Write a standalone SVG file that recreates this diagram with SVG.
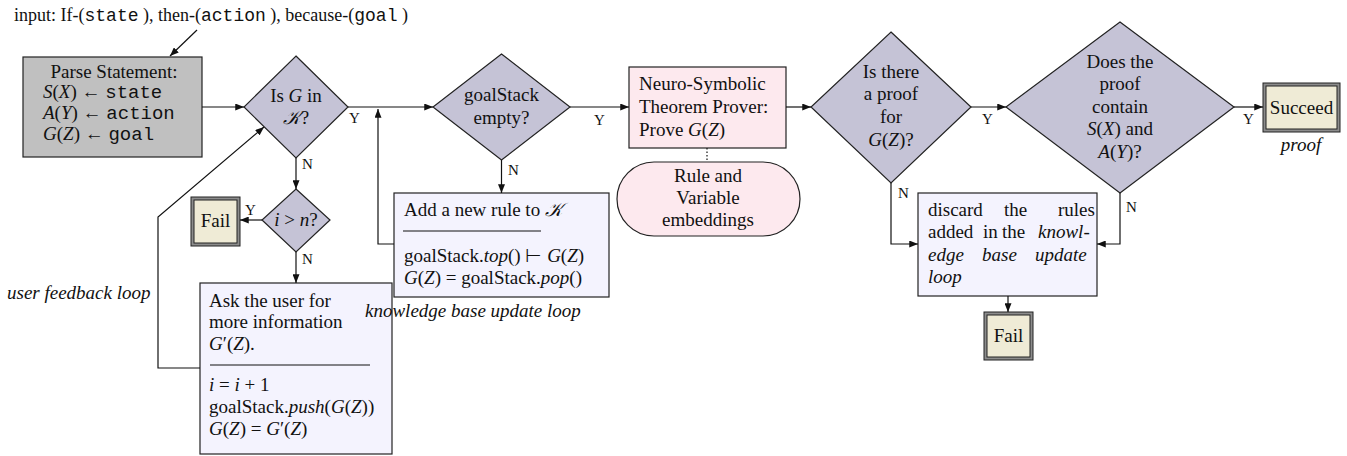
<svg xmlns="http://www.w3.org/2000/svg" width="1347" height="456" viewBox="0 0 1347 456">
<defs>
<style>
text{font-family:"Liberation Serif","Times New Roman",serif;font-size:19px;fill:#111}
.in{font-size:18px}
.mono{font-family:"Liberation Mono","Courier New",monospace}
.it{font-style:italic}
.lbl{font-size:15px}
.mid{text-anchor:middle}
.dia{fill:#c5c3d6;stroke:#222;stroke-width:1.2}
.box{fill:#f4f3fe;stroke:#222;stroke-width:1.2}
.pink{fill:#fde9ee;stroke:#222;stroke-width:1.2}
.gray{fill:#c0c0c0;stroke:#222;stroke-width:1.2}
.outer{fill:#8c8c8c;stroke:#222;stroke-width:1}
.inner{fill:#efebd6;stroke:#222;stroke-width:1}
.conn path{fill:none;stroke:#111;stroke-width:1.2}
.sep{stroke:#111;stroke-width:1}
.cal{font-family:"DejaVu Serif","DejaVu Sans",serif;font-style:italic}
</style>
<marker id="ah" viewBox="0 0 10 8" refX="10" refY="4" markerWidth="9" markerHeight="7" markerUnits="userSpaceOnUse" orient="auto"><path d="M0,0 L10,4 L0,8 z" fill="#111"/></marker>
</defs>
<rect width="1347" height="456" fill="#fff"/>

<g id="input-label">
<text class="in" x="14" y="21">input: If-(<tspan class="mono">state</tspan> ), then-(<tspan class="mono">action</tspan> ), because-(<tspan class="mono">goal</tspan> )</text>
</g>

<g id="parse">
<rect class="gray" x="23" y="57" width="179" height="100"/>
<text class="mid" x="114" y="78">Parse Statement:</text>
<text x="43" y="98"><tspan class="it">S</tspan>(<tspan class="it">X</tspan>) ← <tspan class="mono">state</tspan></text>
<text x="43" y="119"><tspan class="it">A</tspan>(<tspan class="it">Y</tspan>) ← <tspan class="mono">action</tspan></text>
<text x="43" y="140"><tspan class="it">G</tspan>(<tspan class="it">Z</tspan>) ← <tspan class="mono">goal</tspan></text>
</g>

<g id="isGinK">
<polygon class="dia" points="296,56 348,107 296,158 244,107"/>
<text class="mid" x="296" y="102">Is <tspan class="it">G</tspan> in</text>
<text class="mid" x="296" y="124"><tspan class="cal">𝒦</tspan>?</text>
</g>

<g id="iGreaterN">
<polygon class="dia" points="296,189 330,220 296,252 262,220"/>
<text class="mid" x="296" y="226"><tspan class="it">i</tspan> &gt; <tspan class="it">n</tspan>?</text>
</g>

<g id="fail1">
<rect class="outer" x="191" y="197" width="49" height="49"/>
<rect class="inner" x="194" y="200" width="43" height="43"/>
<text class="mid" x="215.5" y="227">Fail</text>
</g>

<g id="askUser">
<rect class="box" x="200" y="283" width="192" height="171"/>
<text x="209" y="307">Ask the user for</text>
<text x="209" y="328">more information</text>
<text x="209" y="350"><tspan class="it">G</tspan>′(<tspan class="it">Z</tspan>).</text>
<line class="sep" x1="210" y1="365" x2="370" y2="365"/>
<text x="209" y="391"><tspan class="it">i</tspan> = <tspan class="it">i</tspan> + 1</text>
<text x="209" y="413">goalStack.<tspan class="it">push</tspan>(<tspan class="it">G</tspan>(<tspan class="it">Z</tspan>))</text>
<text x="209" y="435"><tspan class="it">G</tspan>(<tspan class="it">Z</tspan>) = <tspan class="it">G</tspan>′(<tspan class="it">Z</tspan>)</text>
</g>

<g id="userLoopLabel">
<text class="it" x="7" y="299">user feedback loop</text>
</g>

<g id="goalStackEmpty">
<polygon class="dia" points="501.5,54 570,107 501.5,160 433,107"/>
<text class="mid" x="501.5" y="101">goalStack</text>
<text class="mid" x="501.5" y="124">empty?</text>
</g>

<g id="addRule">
<rect class="box" x="394" y="193" width="215" height="104"/>
<text x="404" y="216">Add a new rule to <tspan class="cal">𝒦</tspan></text>
<line class="sep" x1="403" y1="231" x2="541" y2="231"/>
<text x="404" y="262">goalStack.<tspan class="it">top</tspan>() ⊢ <tspan class="it">G</tspan>(<tspan class="it">Z</tspan>)</text>
<text x="404" y="284"><tspan class="it">G</tspan>(<tspan class="it">Z</tspan>) = goalStack.<tspan class="it">pop</tspan>()</text>
<text class="it" x="365" y="317">knowledge base update loop</text>
</g>

<g id="prover">
<rect class="pink" x="629" y="67" width="157" height="81"/>
<text x="639" y="90">Neuro-Symbolic</text>
<text x="639" y="113">Theorem Prover:</text>
<text x="639" y="136">Prove <tspan class="it">G</tspan>(<tspan class="it">Z</tspan>)</text>
</g>

<g id="embeddings">
<rect class="pink" x="617" y="162" width="183" height="74" rx="37" ry="37"/>
<text class="mid" x="708" y="182">Rule and</text>
<text class="mid" x="708" y="204">Variable</text>
<text class="mid" x="708" y="226">embeddings</text>
</g>

<g id="isThereProof">
<polygon class="dia" points="891,32 971,107 891,183 811,107"/>
<text class="mid" x="891" y="78">Is there</text>
<text class="mid" x="891" y="100">a proof</text>
<text class="mid" x="891" y="123">for</text>
<text class="mid" x="891" y="146"><tspan class="it">G</tspan>(<tspan class="it">Z</tspan>)?</text>
</g>

<g id="containsSA">
<polygon class="dia" points="1120,22 1234,107 1120,193 1006,107"/>
<text class="mid" x="1120" y="68">Does the</text>
<text class="mid" x="1120" y="90">proof</text>
<text class="mid" x="1120" y="113">contain</text>
<text class="mid" x="1120" y="135"><tspan class="it">S</tspan>(<tspan class="it">X</tspan>) and</text>
<text class="mid" x="1120" y="158"><tspan class="it">A</tspan>(<tspan class="it">Y</tspan>)?</text>
</g>

<g id="succeed">
<rect class="outer" x="1263" y="83" width="77" height="49"/>
<rect class="inner" x="1266" y="86" width="71" height="43"/>
<text class="mid" x="1301.5" y="114">Succeed</text>
<text class="mid it" x="1301" y="151">proof</text>
</g>

<g id="discard">
<rect class="box" x="918" y="193" width="179" height="103"/>
<text x="928" y="216">discard</text>
<text x="1004" y="216">the</text>
<text x="1058" y="216">rules</text>
<text x="928" y="238">added</text>
<text x="983" y="238">in</text>
<text x="1002" y="238">the</text>
<text class="it" x="1038" y="238">knowl-</text>
<text class="it" x="928" y="261">edge</text>
<text class="it" x="982" y="261">base</text>
<text class="it" x="1035" y="261">update</text>
<text class="it" x="928" y="283">loop</text>
</g>

<g id="fail2">
<rect class="outer" x="984" y="312" width="49" height="48"/>
<rect class="inner" x="987" y="315" width="43" height="42"/>
<text class="mid" x="1008.5" y="342">Fail</text>
</g>

<g id="connectors" class="conn">
<path d="M197,30 L170,56" marker-end="url(#ah)"/>
<path d="M202,107 H244" marker-end="url(#ah)"/>
<path d="M348,107 H433" marker-end="url(#ah)"/>
<path d="M296,158 V189" marker-end="url(#ah)"/>
<path d="M262,220 H240" marker-end="url(#ah)"/>
<path d="M296,252 V283" marker-end="url(#ah)"/>
<path d="M200,368 H158 V217 L264,127" marker-end="url(#ah)"/>
<path d="M570,107 H629" marker-end="url(#ah)"/>
<path d="M501.5,160 V193" marker-end="url(#ah)"/>
<path d="M394,244 H378 V109" marker-end="url(#ah)"/>
<path d="M786,107 H811" marker-end="url(#ah)"/>
<path d="M707,148 V162" stroke-dasharray="1.5,2"/>
<path d="M971,107 H1006" marker-end="url(#ah)"/>
<path d="M891,183 V244 H918" marker-end="url(#ah)"/>
<path d="M1234,107 H1263" marker-end="url(#ah)"/>
<path d="M1120,193 V244 H1097" marker-end="url(#ah)"/>
<path d="M1008,296 V312" marker-end="url(#ah)"/>
</g>

<g id="edge-labels">
<text class="lbl" x="349" y="123">Y</text>
<text class="lbl" x="302" y="169">N</text>
<text class="lbl" x="245" y="215">Y</text>
<text class="lbl" x="302" y="264">N</text>
<text class="lbl" x="594" y="125">Y</text>
<text class="lbl" x="508" y="175">N</text>
<text class="lbl" x="982" y="124">Y</text>
<text class="lbl" x="898" y="198">N</text>
<text class="lbl" x="1243" y="124">Y</text>
<text class="lbl" x="1126" y="212">N</text>
</g>
</svg>
